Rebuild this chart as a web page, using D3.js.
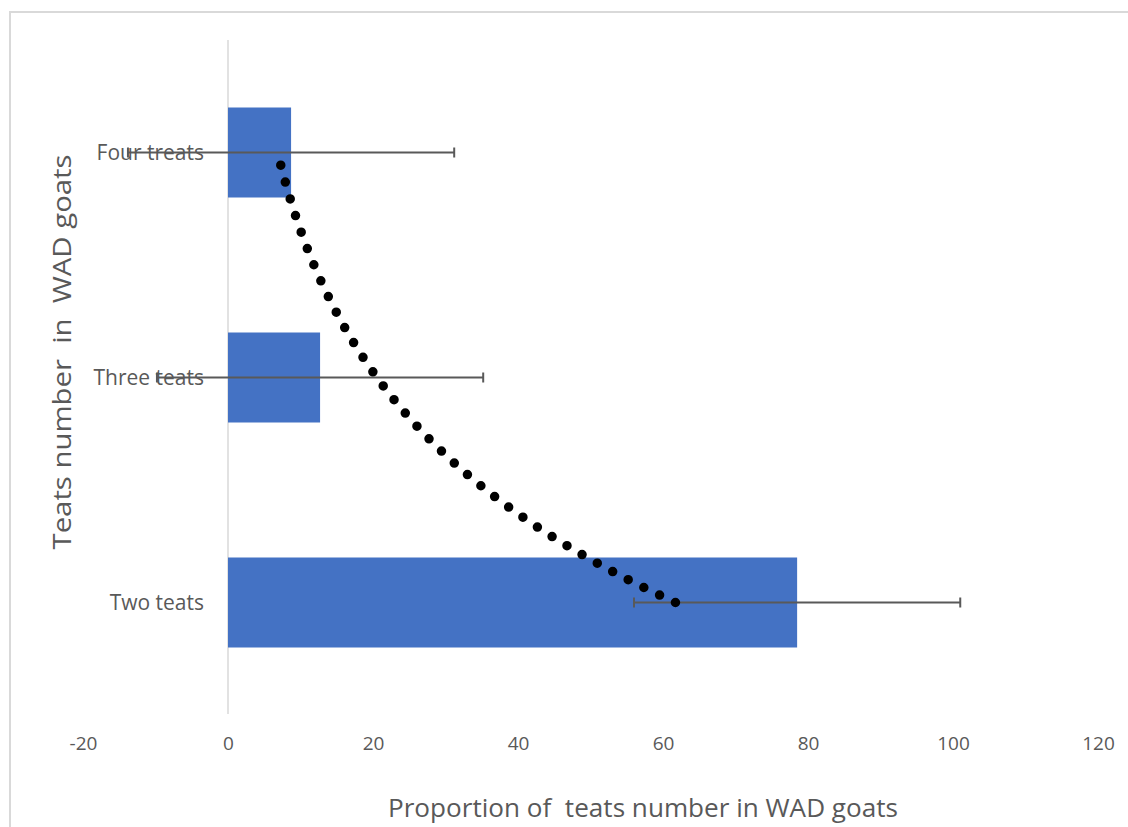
<!DOCTYPE html>
<html>
<head>
<meta charset="utf-8">
<script src="https://cdn.jsdelivr.net/npm/d3@7"></script>
<style>
  html, body { margin: 0; padding: 0; background: #fff; }
  svg { display: block; }
  text { font-family: "Open Sans", "Noto Sans", sans-serif; fill: #595959; }
</style>
</head>
<body>
<svg id="chart" width="1128" height="827"></svg>
<script>
// ---- data (bottom to top, as in the source chart) ----
const categories = ["Two teats", "Three teats", "Four treats"];
const values = [78.5, 12.7, 8.7];
const errors = [22.5, 22.5, 22.5];
const xTicks = [-20, 0, 20, 40, 60, 80, 100, 120];
const xTitle = "Proportion of  teats number in WAD goats";
const yTitle = "Teats number  in  WAD goats";

const svg = d3.select("#chart");
const W = 1128, H = 827;

// chart border (chart area frame)
svg.append("rect")
  .attr("x", 10).attr("y", 12)
  .attr("width", W + 20).attr("height", H + 20)
  .attr("fill", "none").attr("stroke", "#d9d9d9").attr("stroke-width", 2);

const x = d3.scaleLinear().domain([-20, 120]).range([83, 1098]);
const y = d3.scaleBand()
  .domain(categories.slice().reverse())
  .range([40, 715])
  .paddingInner(0.6).paddingOuter(0.3);
const yc = c => y(c) + y.bandwidth() / 2;

// vertical axis line at 0
svg.append("line")
  .attr("x1", x(0)).attr("x2", x(0))
  .attr("y1", 40).attr("y2", 714)
  .attr("stroke", "#d9d9d9").attr("stroke-width", 1.5);

// x axis tick labels (no axis line)
const xAxis = d3.axisBottom(x).tickValues(xTicks).tickSize(0).tickPadding(0).tickFormat(d => String(d));
const gx = svg.append("g").attr("transform", "translate(0,736)").call(xAxis);
gx.select(".domain").remove();
gx.selectAll("text")
  .attr("font-size", 19)
  .attr("fill", "#595959")
  .attr("font-family", "'Open Sans', sans-serif");

// y axis category labels
const yAxis = d3.axisLeft(y).tickSize(0).tickPadding(0);
const gy = svg.append("g").attr("transform", `translate(${x(0) - 24},1)`).call(yAxis);
gy.select(".domain").remove();
gy.selectAll("text")
  .attr("font-size", 21)
  .attr("fill", "#595959")
  .attr("font-family", "'Open Sans', sans-serif");

// bars
svg.append("g").selectAll("rect")
  .data(categories)
  .join("rect")
  .attr("x", x(0))
  .attr("y", c => y(c))
  .attr("width", (c, i) => x(values[i]) - x(0))
  .attr("height", y.bandwidth())
  .attr("fill", "#4472C4");

// error bars
const eb = svg.append("g").attr("stroke", "#595959").attr("stroke-width", 2);
categories.forEach((c, i) => {
  const lo = x(values[i] - errors[i]), hi = x(values[i] + errors[i]), cy = yc(c);
  eb.append("line").attr("x1", lo).attr("x2", hi).attr("y1", cy).attr("y2", cy);
  eb.append("line").attr("x1", lo).attr("x2", lo).attr("y1", cy - 5).attr("y2", cy + 5);
  eb.append("line").attr("x1", hi).attr("x2", hi).attr("y1", cy - 5).attr("y2", cy + 5);
});

// exponential trendline (least squares on ln(value) vs category index 1..n)
const idx = categories.map((c, i) => i + 1);
const lnv = values.map(v => Math.log(v));
const mx = d3.mean(idx), my = d3.mean(lnv);
const slope = d3.sum(idx.map((t, i) => (t - mx) * (lnv[i] - my))) / d3.sum(idx.map(t => (t - mx) ** 2));
const a = Math.exp(my - slope * mx);
const ty = d3.scaleLinear().domain([1, categories.length]).range([yc(categories[0]), yc(categories[categories.length - 1])]);
const tSamples = d3.range(0, 201).map(k => 1 + (categories.length - 1) * k / 200);
const line = d3.line().x(t => x(a * Math.exp(slope * t))).y(t => ty(t));
svg.append("path")
  .attr("d", line(tSamples))
  .attr("fill", "none")
  .attr("stroke", "#000")
  .attr("stroke-width", 9.5)
  .attr("stroke-linecap", "round")
  .attr("stroke-dasharray", "0 17.5");

// axis titles
svg.append("text")
  .attr("x", 643).attr("y", 817)
  .attr("text-anchor", "middle")
  .attr("font-size", 25)
  .attr("fill", "#595959")
  .attr("textLength", 510)
  .attr("lengthAdjust", "spacingAndGlyphs")
  .style("white-space", "pre")
  .text(xTitle);

svg.append("text")
  .attr("transform", "translate(71,352) rotate(-90)")
  .attr("text-anchor", "middle")
  .attr("font-size", 26)
  .attr("fill", "#595959")
  .attr("textLength", 395)
  .attr("lengthAdjust", "spacingAndGlyphs")
  .style("white-space", "pre")
  .text(yTitle);
</script>
</body>
</html>
